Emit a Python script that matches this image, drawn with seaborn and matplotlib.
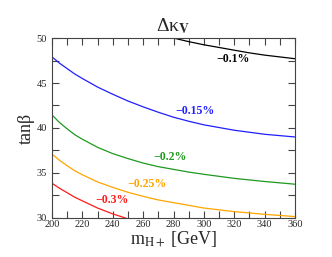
import numpy as np
import pandas as pd
import seaborn as sns
import matplotlib.pyplot as plt
from matplotlib.ticker import MultipleLocator

# contour lines of Delta kappa_V in the (m_H+, tan beta) plane
m_black = [276, 280, 290, 300, 310, 320, 330, 340, 350, 360]
tb_black = [50.3, 50.0, 49.6, 49.25, 48.95, 48.65, 48.35, 48.1, 47.9, 47.7]

m_blue = [200, 205, 210, 215, 220, 230, 240, 250, 260, 270, 280, 290, 300, 320, 340, 360]
tb_blue = [47.9, 47.2, 46.6, 46.0, 45.5, 44.55, 43.75, 43.0, 42.35, 41.75, 41.2, 40.75,
           40.35, 39.75, 39.3, 39.0]

m_green = [200, 205, 210, 215, 220, 230, 240, 250, 260, 270, 280, 290, 300, 320, 340, 360]
tb_green = [41.45, 40.6, 39.9, 39.25, 38.75, 37.85, 37.15, 36.6, 36.1, 35.7, 35.4, 35.1,
            34.85, 34.4, 34.05, 33.75]

m_orange = [200, 205, 210, 215, 220, 230, 240, 250, 260, 270, 280, 290, 300, 320, 340, 360]
tb_orange = [37.1, 36.4, 35.8, 35.25, 34.8, 34.0, 33.4, 32.85, 32.4, 32.0, 31.7, 31.4,
             31.1, 30.7, 30.4, 30.15]

m_red = [200, 205, 210, 215, 220, 230, 240, 250]
tb_red = [33.85, 33.3, 32.8, 32.3, 31.9, 31.1, 30.45, 29.9]

labels = ['\u22120.1%', '\u22120.15%', '\u22120.2%', '\u22120.25%', '\u22120.3%']
label_m = [319, 294, 278, 262.5, 239.5]
label_tb = [47.65, 41.9, 36.8, 33.8, 32.0]
colors = ['black', '#1f1fff', '#1e9a1e', '#ffa500', '#ff1a1a']

sns.set_theme(style='ticks')
plt.rcParams['font.family'] = ['Liberation Serif', 'DejaVu Serif']
plt.rcParams['mathtext.fontset'] = 'stix'

fig = plt.figure(figsize=(3.32, 2.57), dpi=100)
ax = fig.add_axes([0.1566, 0.152, 0.732, 0.700])

curves = [(m_black, tb_black), (m_blue, tb_blue), (m_green, tb_green),
          (m_orange, tb_orange), (m_red, tb_red)]
for (m, tb), c in zip(curves, colors):
    df = pd.DataFrame({'m': m, 'tb': tb})
    sns.lineplot(data=df, x='m', y='tb', color=c, lw=0.9, ax=ax, sort=False)

for lab, x, y, c in zip(labels, label_m, label_tb, colors):
    ax.text(x, y, lab, color=c, fontsize=8.5, fontweight='bold',
            ha='center', va='center')

ax.set_xlim(200, 360)
ax.set_ylim(30, 50)
ax.xaxis.set_major_locator(MultipleLocator(20))
ax.xaxis.set_minor_locator(MultipleLocator(10))
ax.yaxis.set_major_locator(MultipleLocator(5))
ax.yaxis.set_minor_locator(MultipleLocator(2.5))
ax.tick_params(which='both', direction='in', top=True, right=True,
               labelsize=7.5, color='#444444', width=0.8)
ax.tick_params(axis='x', pad=1.5)
ax.tick_params(axis='y', pad=3.5)
ax.tick_params(which='major', length=5)
ax.tick_params(which='minor', length=5)
for s in ax.spines.values():
    s.set_color('#444444')
    s.set_linewidth(0.8)

ax.set_xlabel(r'm$_{\mathrm{H+}}$ [GeV]', fontsize=13, labelpad=0)
ax.set_ylabel('tan\u03b2', fontsize=13, labelpad=1)
ax.set_title('\u0394\u03ba' + r'$_{\mathbf{V}}$', fontsize=14, pad=5)

fig.savefig('out.png', dpi=100)
